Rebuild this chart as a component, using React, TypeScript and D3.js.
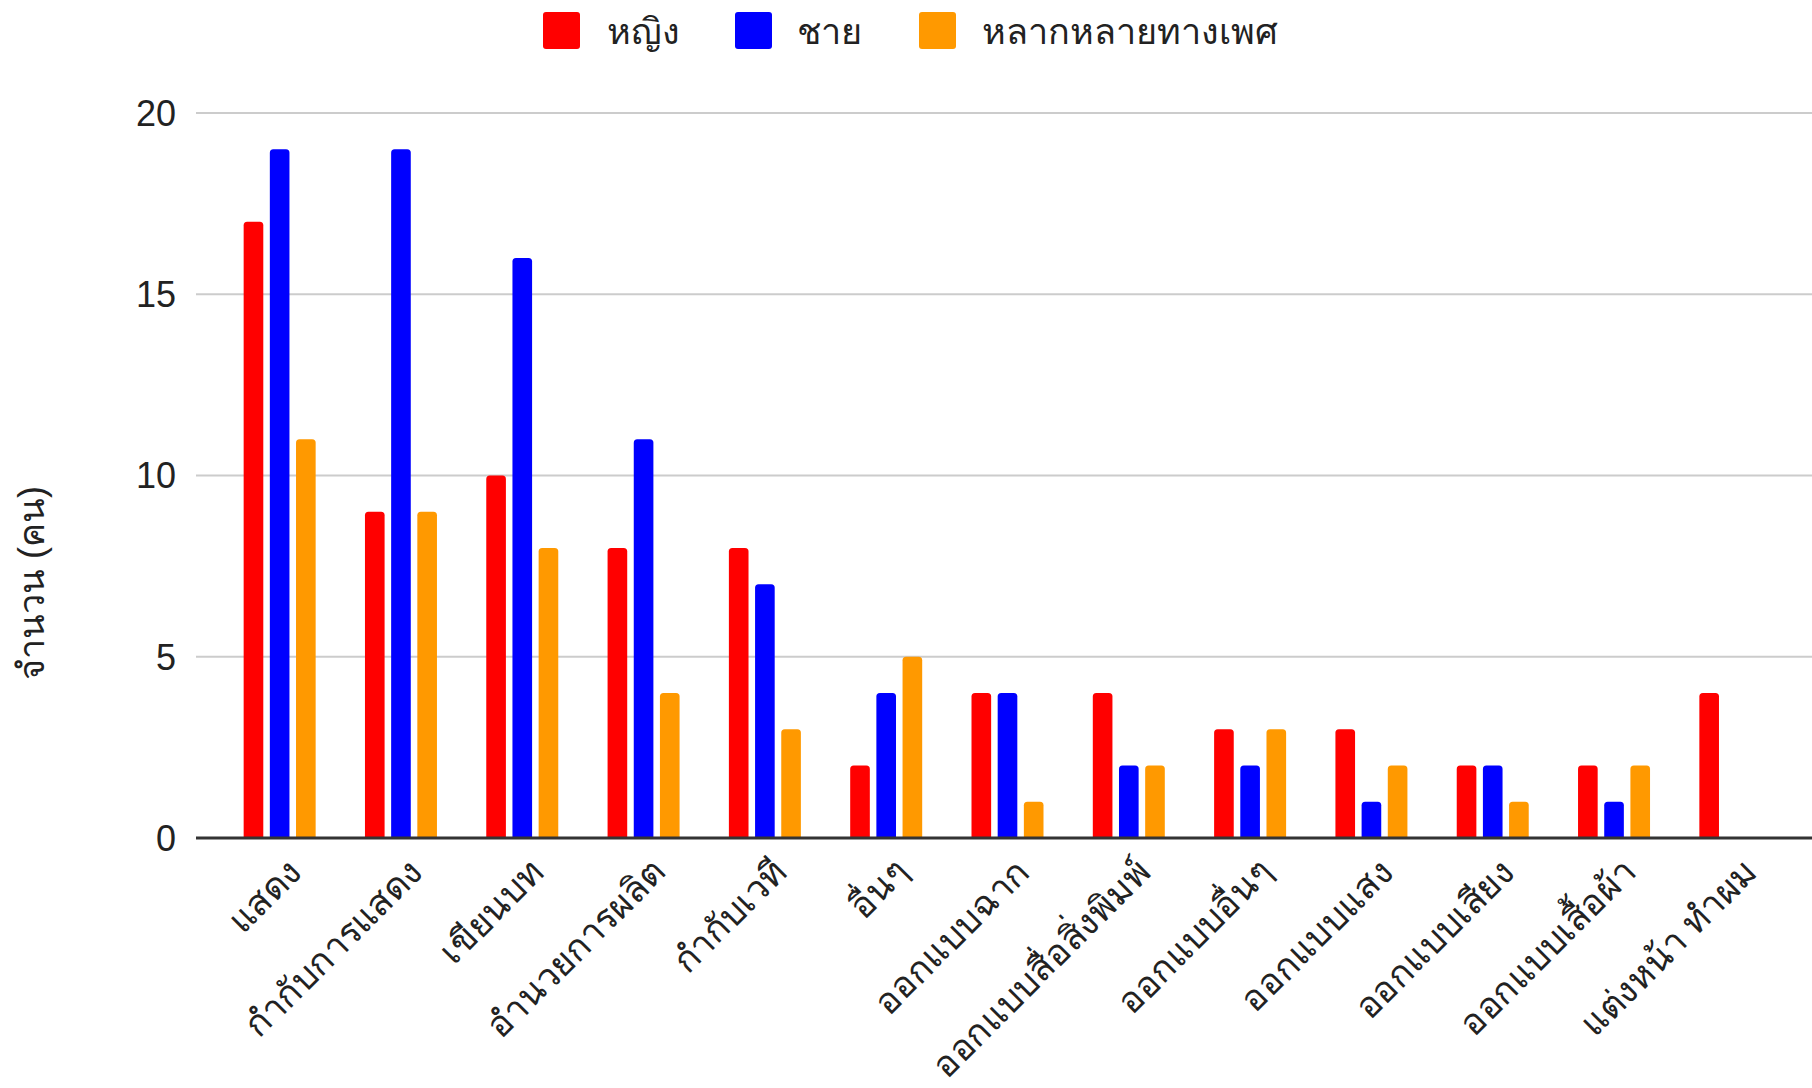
import React from "react";
import * as d3 from "d3";

const categories = [
  "แสดง",
  "กำกับการแสดง",
  "เขียนบท",
  "อำนวยการผลิต",
  "กำกับเวที",
  "อื่นๆ",
  "ออกแบบฉาก",
  "ออกแบบสื่อสิ่งพิมพ์",
  "ออกแบบอื่นๆ",
  "ออกแบบแสง",
  "ออกแบบเสียง",
  "ออกแบบเสื้อผ้า",
  "แต่งหน้า ทำผม",
];
const female = [17, 9, 10, 8, 8, 2, 4, 4, 3, 3, 2, 2, 4];
const male = [19, 19, 16, 11, 7, 4, 4, 2, 2, 1, 2, 1, 0];
const diverse = [11, 9, 8, 4, 3, 5, 1, 2, 3, 2, 1, 2, 0];
const seriesNames = ["หญิง", "ชาย", "หลากหลายทางเพศ"];
const seriesColors = ["#ff0000", "#0000ff", "#ff9900"];
const yTicks = [0, 5, 10, 15, 20];
const yTitle = "จำนวน (คน)";

const W = 1812;
const H = 1088;
const FONT = "Arial, 'Liberation Sans', 'Noto Sans', sans-serif";

export default function App() {
  const series = [female, male, diverse];
  const x = d3.scaleBand<string>().domain(categories).range([219, 1796]).paddingInner(0).paddingOuter(0);
  const inner = d3.scaleBand<number>().domain([0, 1, 2]).range([-36, 36]).paddingInner(0.25);
  const y = d3.scaleLinear().domain([0, 20]).range([838, 113]);
  const gridLeft = 196;
  const gridRight = 1812;

  const legendItems = [
    { box: 543, text: 607 },
    { box: 735, text: 797 },
    { box: 919, text: 982 },
  ];

  return (
    <svg width={W} height={H} style={{ display: "block", position: "absolute", left: 0, top: 0 }} fontFamily={FONT}>
      <rect x={0} y={0} width={W} height={H} fill="#fff" />
      {/* legend */}
      {seriesNames.map((n, i) => (
        <g key={n}>
          <rect x={legendItems[i].box} y={12} width={37} height={37} rx={3} fill={seriesColors[i]} />
          <text x={legendItems[i].text} y={44} fontSize={36} fill="#222">
            {n}
          </text>
        </g>
      ))}
      {/* grid */}
      {yTicks.map((t) => (
        <g key={t}>
          {t !== 0 && (
            <line x1={gridLeft} x2={gridRight} y1={y(t)} y2={y(t)} stroke="#cccccc" strokeWidth={2} />
          )}
          <text x={176} y={y(t)} dy="0.36em" textAnchor="end" fontSize={36} fill="#222">
            {t}
          </text>
        </g>
      ))}
      {/* bars */}
      {categories.map((c, ci) => {
        const cx = (x(c) as number) + x.bandwidth() / 2;
        return (
          <g key={c}>
            {series.map((s, si) => {
              const v = s[ci];
              if (v <= 0) return null;
              const bx = cx + (inner(si) as number);
              const bw = inner.bandwidth();
              const top = y(v);
              const bottom = y(0);
              const r = 3.5;
              const path = `M${bx},${bottom} L${bx},${top + r} Q${bx},${top} ${bx + r},${top} L${bx + bw - r},${top} Q${bx + bw},${top} ${bx + bw},${top + r} L${bx + bw},${bottom} Z`;
              return <path key={si} d={path} fill={seriesColors[si]} />;
            })}
          </g>
        );
      })}
      <line x1={gridLeft} x2={gridRight} y1={y(0)} y2={y(0)} stroke="#333333" strokeWidth={3} />
      {/* x labels */}
      {categories.map((c, ci) => {
        const cx = (x(c) as number) + x.bandwidth() / 2;
        return (
          <text
            key={c}
            transform={`translate(${cx + 24},${874}) rotate(-45)`}
            textAnchor="end"
            fontSize={36}
            fill="#222"
          >
            {c}
          </text>
        );
      })}
      {/* y title */}
      <text transform={`translate(${44},${583}) rotate(-90)`} textAnchor="middle" fontSize={36} fill="#222">
        {yTitle}
      </text>
    </svg>
  );
}
